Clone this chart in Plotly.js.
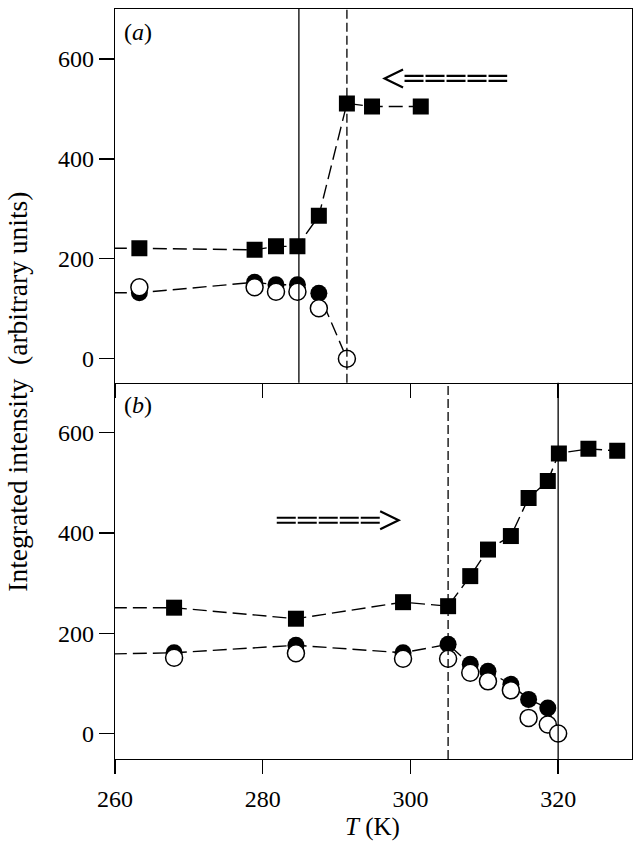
<!DOCTYPE html>
<html>
<head>
<meta charset="utf-8">
<script src="https://cdn.plot.ly/plotly-3.0.1.min.js"></script>
<style>
  html, body { margin: 0; padding: 0; background: #fff; }
  #chart { width: 640px; height: 848px; }
</style>
</head>
<body>
<div id="chart"></div>
<script>
// panel (a): cooling run. First entry of each line series sits just left of the axis
// so the dashed line runs in from the frame, as in the figure.
const aSqT = [257, 263.3, 278.9, 281.8, 284.7, 287.6, 291.4, 294.8, 301.4];
const aSqI = [221, 221, 218, 225, 225, 286, 511, 505, 505];
const aCircT = [257, 263.3, 278.9, 281.8, 284.7, 287.6, 291.4];
const aFilledI = [132, 132, 153, 148, 148, 131, 0];
const aOpenT = [263.3, 278.9, 281.8, 284.7, 287.6, 291.4];
const aOpenI = [143, 143, 134, 134, 101, 0];
const aSolid = [284.9];
const aDashed = [291.4];

// panel (b): heating run
const bSqT = [257, 268.0, 284.5, 299.0, 305.1, 308.1, 310.5, 313.6, 316.0, 318.6, 320.1, 324.1, 328.0];
const bSqI = [251, 251, 229, 262, 254, 314, 367, 394, 470, 504, 559, 568, 564];
const bCircT = [257, 268.0, 284.5, 299.0, 305.1, 308.1, 310.5, 313.6, 316.0, 318.6, 320.0];
const bFilledI = [158, 161, 176, 161, 178, 138, 124, 98, 68, 51, 0];
const bOpenT = [268.0, 284.5, 299.0, 305.1, 308.1, 310.5, 313.6, 316.0, 318.6, 320.0];
const bOpenI = [151, 160, 149, 149, 121, 104, 86, 31, 18, 0];
const bSolid = [320];
const bDashed = [305.1];

const yTicks = [0, 200, 400, 600];
const xTicks = [260, 280, 300, 320];

const SERIF = '"Liberation Serif", "Times New Roman", Times, serif';
const DATA_DASH = '14px,6px';

function filledLine(x, y, xa, ya) {
  return {x: x, y: y, xaxis: xa, yaxis: ya, type: 'scatter', mode: 'lines+markers',
    line: {color: '#000', width: 1.4, dash: DATA_DASH},
    marker: {symbol: 'circle', size: 17, color: '#000'}, hoverinfo: 'x+y'};
}
function openPts(x, y, xa, ya) {
  return {x: x, y: y, xaxis: xa, yaxis: ya, type: 'scatter', mode: 'markers',
    marker: {symbol: 'circle', size: 17, color: '#fff', line: {color: '#000', width: 1.5}},
    hoverinfo: 'x+y'};
}
function squares(x, y, xa, ya) {
  return {x: x, y: y, xaxis: xa, yaxis: ya, type: 'scatter', mode: 'lines+markers',
    line: {color: '#000', width: 1.4, dash: DATA_DASH},
    marker: {symbol: 'square', size: 16, color: '#000'}, hoverinfo: 'x+y'};
}

const traces = [
  filledLine(aCircT, aFilledI, 'x', 'y'),
  openPts(aOpenT, aOpenI, 'x', 'y'),
  squares(aSqT, aSqI, 'x', 'y'),
  filledLine(bCircT, bFilledI, 'x2', 'y2'),
  openPts(bOpenT, bOpenI, 'x2', 'y2'),
  squares(bSqT, bSqI, 'x2', 'y2'),
];

function vline(t, xa, ya, dash) {
  return {type: 'line', xref: xa, yref: ya + ' domain', x0: t, x1: t, y0: 0, y1: 1,
    line: {color: '#000', width: 1.3, dash: dash}};
}
const shapes = [
  ...aSolid.map(t => vline(t, 'x', 'y', 'solid')),
  ...aDashed.map(t => vline(t, 'x', 'y', '9px,4px')),
  ...bSolid.map(t => vline(t, 'x2', 'y2', 'solid')),
  ...bDashed.map(t => vline(t, 'x2', 'y2', '9px,4px')),
];

// double-line arrows
function arrow(xa, ya, xs, xe, yc, tip, back) {
  const s = [];
  [yc + 5, yc - 5].forEach(yy => s.push({type: 'line', xref: xa, yref: ya,
    x0: xs, x1: xe, y0: yy, y1: yy, line: {color: '#000', width: 2.2, dash: '19px,2px'}}));
  s.push({type: 'path', xref: xa, yref: ya,
    path: `M${back},${yc + 18} L${tip},${yc} L${back},${yc - 18}`,
    line: {color: '#000', width: 2.2}});
  return s;
}
shapes.push(...arrow('x', 'y', 299.2, 313.1, 561, 296.5, 299.0));
shapes.push(...arrow('x2', 'y2', 281.9, 295.9, 425.5, 298.4, 295.9));

const axisY = (range, domain) => ({
  range: range, domain: domain, tickvals: yTicks, ticks: 'outside', ticklen: 15,
  tickwidth: 1.3, tickcolor: '#000', showline: true, linecolor: '#000', linewidth: 1.3,
  mirror: true, showgrid: false, zeroline: false, anchor: domain[0] === 0 ? 'x2' : 'x',
  tickfont: {family: SERIF, size: 24, color: '#000'},
});
const axisX = (anchor, labels, mirror) => ({
  range: [260, 330], tickvals: xTicks, ticks: 'outside', ticklen: 14,
  tickwidth: 1.3, tickcolor: '#000', showline: true, linecolor: '#000', linewidth: 1.3,
  mirror: mirror, showgrid: false, zeroline: false, anchor: anchor,
  showticklabels: labels, ticklabelstandoff: 4,
  tickfont: {family: SERIF, size: 24, color: '#000'},
});

const layout = {
  width: 640, height: 848,
  margin: {l: 115, r: 8, t: 9, b: 89},
  paper_bgcolor: '#fff', plot_bgcolor: '#fff',
  showlegend: false,
  font: {family: SERIF, color: '#000'},
  // panel (a)'s bottom axis doubles as the top frame of panel (b)
  xaxis: axisX('y', false, true),
  xaxis2: Object.assign(axisX('y2', true, false), {matches: 'x'}),
  yaxis: axisY([-48, 700], [0.5017, 1]),
  yaxis2: axisY([-51, 700], [0, 0.5017]),
  shapes: shapes,
  annotations: [
    {text: '(<i>a</i>)', xref: 'paper', yref: 'paper', x: 0.014, y: 0.9694,
      xanchor: 'left', yanchor: 'middle', showarrow: false,
      font: {family: SERIF, size: 24, color: '#000'}},
    {text: '(<i>b</i>)', xref: 'paper', yref: 'paper', x: 0.014, y: 0.4724,
      xanchor: 'left', yanchor: 'middle', showarrow: false,
      font: {family: SERIF, size: 24, color: '#000'}},
    {text: '<i>T</i> (K)', xref: 'paper', yref: 'paper', x: 0.499, y: -0.0913,
      xanchor: 'center', yanchor: 'middle', showarrow: false,
      font: {family: SERIF, size: 25, color: '#000'}},
    {text: 'Integrated intensity\u00a0 (arbitrary units)', xref: 'paper', yref: 'paper',
      x: -0.1876, y: 0.4897, textangle: -90, xanchor: 'center', yanchor: 'middle',
      showarrow: false, font: {family: SERIF, size: 27.5, color: '#000'}},
  ],
};

Plotly.newPlot('chart', traces, layout, {displayModeBar: false, staticPlot: true});
</script>
</body>
</html>
